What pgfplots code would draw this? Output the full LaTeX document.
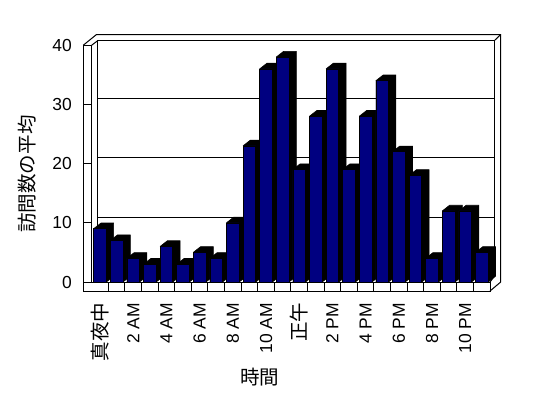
\documentclass[border=0pt]{standalone}
\usepackage{fontspec}
\setmainfont{Liberation Sans}
\newfontfamily\cjk[Scale=1.12]{Noto Sans CJK JP}
\usepackage{pgfplots}
\usepackage{pgfplotstable}
\pgfplotsset{compat=1.18}
\definecolor{barnavy}{RGB}{0,0,128}

\pgfplotstableread{
h v
0 9
1 7
2 4
3 3
4 6
5 3
6 5
7 4
8 10
9 23
10 36
11 38
12 19
13 28
14 36
15 19
16 28
17 34
18 22
19 18
20 4
21 12
22 12
23 5
}\visits

\begin{document}
\begin{tikzpicture}
\begin{scope}[x=1bp,y=-1bp,yshift=398bp]
\path[use as bounding box] (0,0) rectangle (548,398);
\end{scope}
% back wall with gridlines
\begin{axis}[at={(97.7bp,121.7bp)}, anchor=south west, scale only axis,
  width=396.6bp, height=236.8bp, xmin=-0.5, xmax=23.5, ymin=0, ymax=40,
  xtick=\empty, ytick={10,20,30}, yticklabels={}, ymajorgrids,
  grid style={black, line width=1bp}, axis line style={draw=none},
  major tick length=0pt]
\addplot[draw=none] coordinates {(0,0)};
\end{axis}
% 3-D frame: walls and floor
\begin{scope}[x=1bp,y=-1bp,yshift=398bp,line width=1bp, line join=miter]
\draw (97.7,276.3) -- (97.7,40.7) -- (494.3,40.7) -- (494.3,276.3);
\draw (83.3,45.2) -- (96.5,34.5) -- (500.7,34.5) -- (500.7,282) -- (490,291);
\draw (494.3,40.7) -- (500.7,34.5);
\draw (83.3,45.2) -- (83.3,291) -- (490,291) -- (490,282) -- (91.7,282) -- (91.7,45.2) -- cycle;
\draw (91.7,45.2) -- (97.7,40.7);
\draw (490,282) -- (494.3,276.3);
\end{scope}
% front axis with bars
\begin{axis}[at={(91.7bp,116bp)}, anchor=south west, scale only axis,
  width=398.4bp, height=236.8bp, xmin=-0.5, xmax=23.5, ymin=0, ymax=40,
  clip=false, axis line style={draw=none},
  xtick={0,2,...,22},
  xticklabels={{\cjk 真夜中},2 AM,4 AM,6 AM,8 AM,10 AM,{\cjk 正午},2 PM,4 PM,6 PM,8 PM,10 PM},
  minor xtick={0.5,1.5,...,22.5},
  ytick={0,10,...,40},
  xtick pos=bottom, ytick pos=left, tick align=outside,
  major tick length=8.4bp, minor tick length=9bp,
  major x tick style={draw=none},
  minor x tick style={draw=black, line width=1bp},
  ytick style={black, line width=1bp},
  tick label style={font=\fontsize{17.5}{20}\selectfont},
  /pgf/number format/assume math mode=true,
  yticklabel style={xshift=-8bp},
  xticklabel style={yshift=-9bp, rotate=90, anchor=east},
  label style={font=\fontsize{17.5}{20}\selectfont},
  xlabel={\cjk 時間}, ylabel={\cjk 訪問数の平均},
  xlabel style={at={(rel axis cs:0.4217,-0.401)}, anchor=center},
  ylabel style={at={(rel axis cs:-0.161,0.456)}, anchor=center},
]
\pgfplotsinvokeforeach{0,...,23}{%
  \pgfplotstablegetelem{#1}{v}\of\visits
  \let\val=\pgfplotsretval
  \pgfmathsetmacro{\xa}{#1-0.3825}%
  \pgfmathsetmacro{\xb}{#1+0.3825}%
  \pgfmathsetmacro{\xc}{#1+0.8225}%
  \pgfmathsetmacro{\xd}{#1+0.0575}%
  \pgfmathsetmacro{\vt}{\val+0.963}%
  \edef\temp{\noexpand\addplot[fill=black,draw=black,line width=0.6bp] coordinates {(\xa,0) (\xb,0) (\xc,0.963) (\xc,\vt) (\xd,\vt) (\xa,\val)};}%
  \temp
}
\addplot[ybar, bar width=0.765, fill=barnavy, draw=black, line width=0.6bp] table[x=h,y=v]{\visits};
\end{axis}
\end{tikzpicture}
\end{document}
